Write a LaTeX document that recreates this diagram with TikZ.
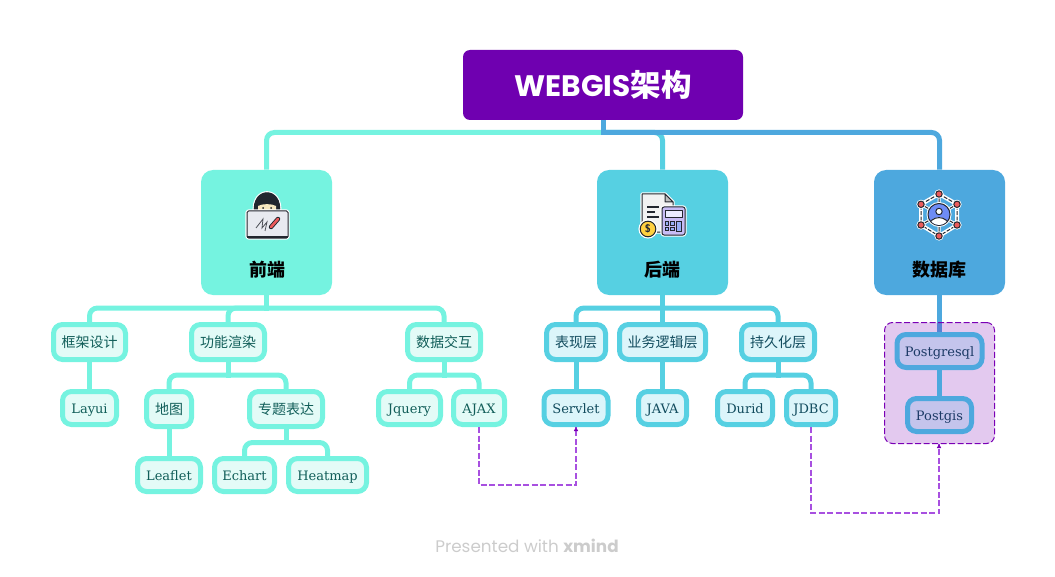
\documentclass[tikz,border=0pt]{standalone}
\usepackage{fontspec}
\setmainfont{DejaVu Serif}
\newfontfamily\cjk{Noto Sans CJK SC}
\newfontfamily\latinhead{Poppins}
\usetikzlibrary{arrows.meta,backgrounds}
\newdimen\px \px=0.75pt
\newcommand{\zh}[1]{{\fontsize{14\px}{16\px}\selectfont\cjk #1}}
\definecolor{cmain}{HTML}{6F00B0}
\definecolor{cteal}{HTML}{75F3E0}
\definecolor{ccyan}{HTML}{56D0E2}
\definecolor{cblue}{HTML}{4DA8DE}
\definecolor{fteal}{HTML}{E3FBF7}
\definecolor{fcyan}{HTML}{DCF5FA}
\definecolor{fdb}{HTML}{C4C4EC}
\definecolor{tteal}{HTML}{115E59}
\definecolor{tcyan}{HTML}{124C5E}
\definecolor{tdb}{HTML}{1C3A66}
\definecolor{cdash}{HTML}{A850E0}
\definecolor{cdark}{HTML}{7A00B5}
\definecolor{iline}{HTML}{22262E}
\definecolor{ired}{HTML}{EC5B5B}
\definecolor{iface}{HTML}{F8E8C0}
\definecolor{ilap}{HTML}{E8EAF0}
\definecolor{ipur}{HTML}{C8BCF5}
\definecolor{iblue}{HTML}{6E8CF5}
\definecolor{icoin}{HTML}{FFD040}
\pgfdeclarelayer{bg}\pgfdeclarelayer{mid}
\pgfsetlayers{bg,mid,main}
\tikzset{
  mainbox/.style={fill=cmain,rounded corners=7\px,minimum width=280\px,minimum height=70\px,inner sep=0pt,text=white,font=\fontsize{29.6\px}{32\px}\selectfont\latinhead\bfseries},
  topicbox/.style={fill=#1,rounded corners=12\px,minimum width=131\px,minimum height=125\px,inner sep=0pt},
  toplabel/.style={font=\fontsize{18\px}{20\px}\selectfont\cjk\bfseries,text=black,inner sep=0pt},
  sub/.style n args={3}{draw=#1,fill=#2,text=#3,line width=5\px,rounded corners=9\px,inner sep=0pt,
     minimum height=33\px,text height=12.5\px,text depth=2.5\px,font=\fontsize{13\px}{15\px}\selectfont},
  tsub/.style={sub={cteal}{fteal}{tteal}},
  csub/.style={sub={ccyan}{fcyan}{tcyan}},
  dsub/.style={sub={cblue}{fdb}{tdb}},
  link/.style={line width=5\px,line cap=rect,draw=#1},
  rlink/.style={line width=5\px,draw=#1,rounded corners=8\px},
  dashlink/.style={draw=cdash,line width=1.2\px,dash pattern=on 6\px off 2.5\px},
  ic/.style={draw=iline,line width=1\px,line join=round},
  halo/.style={draw=white,line width=3.2\px,line join=round},
}
\begin{document}
\begin{tikzpicture}[x=1\px,y=-1\px]
\useasboundingbox (0,0) rectangle (1055,577);
% main and topics
\node[mainbox] (main) at (603,85) {WEBGIS{\fontsize{30.5\px}{32\px}\selectfont\cjk\bfseries 架构}};
\node[topicbox=cteal] (fe) at (266.5,232.5) {};
\node[topicbox=ccyan] (be) at (662.5,232.5) {};
\node[topicbox=cblue] (db) at (939.5,232.5) {};
\node[toplabel] (felab) at (267,270) {前端};
\node[toplabel] (belab) at (662.5,270) {后端};
\node[toplabel] (dblab) at (939.5,270) {数据库};
% front-end nodes
\node[tsub,minimum width=72\px,minimum height=35\px] (n1) at (89.5,342) {\zh{框架设计}};
\node[tsub,minimum width=73\px,minimum height=35\px] (n2) at (228,342) {\zh{功能渲染}};
\node[tsub,minimum width=73\px,minimum height=35\px] (n3) at (444,342) {\zh{数据交互}};
\node[tsub,minimum width=54\px] (layui) at (89.5,408) {Layui};
\node[tsub,minimum width=45\px,minimum height=35\px] (map) at (169,409) {\zh{地图}};
\node[tsub,minimum width=73\px,minimum height=35\px] (theme) at (286,409) {\zh{专题表达}};
\node[tsub,minimum width=63\px] (leaflet) at (169,475) {Leaflet};
\node[tsub,minimum width=60\px] (echart) at (244.5,475) {Echart};
\node[tsub,minimum width=78\px] (heat) at (327.5,475) {Heatmap};
\node[tsub,minimum width=62\px] (jq) at (409.5,408) {Jquery};
\node[tsub,minimum width=51\px] (ajax) at (479,408) {AJAX};
% back-end nodes
\node[csub,minimum width=59\px,minimum height=35\px] (b1) at (576,342) {\zh{表现层}};
\node[csub,minimum width=86\px,minimum height=35\px] (b2) at (662.5,342) {\zh{业务逻辑层}};
\node[csub,minimum width=73\px,minimum height=35\px] (b3) at (778,342) {\zh{持久化层}};
\node[csub,minimum width=64\px] (servlet) at (576,408) {Servlet};
\node[csub,minimum width=48\px] (java) at (662.5,408) {JAVA};
\node[csub,minimum width=55\px] (durid) at (745,408) {Durid};
\node[csub,minimum width=49\px] (jdbc) at (811,408) {JDBC};
% database nodes
\node[dsub,minimum width=85\px] (pgsql) at (939.5,351) {Postgresql};
\node[dsub,minimum width=64\px] (pgis) at (939.5,415) {Postgis};
% junctions
\coordinate (j0) at (main.south |- 0,132.5);
\coordinate (j1) at (fe.south |- 0,308);
\coordinate (j2) at (n2.south |- 0,375);
\coordinate (j3) at (theme.south |- 0,442.5);
\coordinate (j4) at (n3.south |- 0,375);
\coordinate (j5) at (be.south |- 0,308);
\coordinate (j6) at (b3.south |- 0,375);
\begin{pgfonlayer}{bg}
  \draw[link=cteal] (main.south) -- (j0);
  \draw[rlink=cteal] (j0) -| (fe.north);
  \draw[rlink=ccyan] (j0) -| (be.north);
  \draw[rlink=cblue] (j0) -| (db.north);
  \draw[link=cblue] (main.south) -- (j0);
  % front-end tree
  \draw[link=cteal] (fe.south) -- (j1);
  \draw[rlink=cteal] (j1) -| (n1.north);
  \draw[rlink=cteal] (j1) -| (n2.north);
  \draw[rlink=cteal] (j1) -| (n3.north);
  \draw[link=cteal] (n1.south) -- (layui.north);
  \draw[link=cteal] (n2.south) -- (j2);
  \draw[rlink=cteal] (j2) -| (map.north);
  \draw[rlink=cteal] (j2) -| (theme.north);
  \draw[link=cteal] (map.south) -- (leaflet.north);
  \draw[link=cteal] (theme.south) -- (j3);
  \draw[rlink=cteal] (j3) -| (echart.north);
  \draw[rlink=cteal] (j3) -| (heat.north);
  \draw[link=cteal] (n3.south) -- (j4);
  \draw[rlink=cteal] (j4) -| (jq.north);
  \draw[rlink=cteal] (j4) -| (ajax.north);
  % back-end tree
  \draw[link=ccyan] (be.south) -- (b2.north);
  \draw[rlink=ccyan] (j5) -| (b1.north);
  \draw[rlink=ccyan] (j5) -| (b3.north);
  \draw[link=ccyan] (b1.south) -- (servlet.north);
  \draw[link=ccyan] (b2.south) -- (java.north);
  \draw[link=ccyan] (b3.south) -- (j6);
  \draw[rlink=ccyan] (j6) -| (durid.north);
  \draw[rlink=ccyan] (j6) -| (jdbc.north);
  % database
  \draw[link=cblue] (db.south) -- (pgsql.north);
\end{pgfonlayer}
\begin{pgfonlayer}{mid}
  \node[draw=cdark,fill=cdark,fill opacity=.21,draw opacity=1,text opacity=1,line width=1\px,dash pattern=on 6\px off 2.5\px,rounded corners=8\px,
     minimum width=110\px,minimum height=121\px,inner sep=0pt] (bound) at (939.5,383) {};
  \draw[link=cblue] (pgsql.south) -- (pgis.north);
\end{pgfonlayer}
% relationship lines
\coordinate (d1) at (ajax.south |- 0,485);
\coordinate (d2) at (jdbc.south |- 0,513);
\draw[dashlink] (ajax.south) -- (d1) -| (servlet.south);
\draw[dashlink] (jdbc.south) -- (d2) -| ([xshift=-0.5\px]bound.south);
\fill[cdark] (servlet.south) -- ++(-2.2,4) -- ++(4.4,0) -- cycle;
\fill[cdark] ([xshift=-0.5\px]bound.south) -- ++(-2.2,4) -- ++(4.4,0) -- cycle;
% footer
\node[inner sep=0pt,text=black!20] (foot) at (527,546) {\fontsize{16.8\px}{18\px}\selectfont\latinhead Presented with {\bfseries xmind}};
% icon 1: person behind a laptop
\draw[halo,fill=white] (254.5,213) .. controls (251,186) and (283,186) .. (279.5,213) -- cycle;
\draw[ic,fill=iline] (254.5,213) .. controls (251,186) and (283,186) .. (279.5,213) -- cycle;
\fill[iface] (258,206) .. controls (262,203.5) and (272,203.5) .. (276,206) -- (276,212) -- (258,212) -- cycle;
\fill[iline] (263,208) circle[radius=1] (271,208) circle[radius=1];
\draw[halo,fill=white,rounded corners=1.5\px] (247,211) rectangle (288,238);
\draw[ic,fill=ilap,rounded corners=1.5\px] (247,211) rectangle (288,238);
\draw[iline,line width=1.8\px] (247,237) -- (288,237);
\draw[iline!80,line width=.8\px] (256,228) -- (263,219) -- (262,228) -- (267,222) -- (265,231);
\draw[iline,line width=4.4\px,line cap=round] (271,227) -- (278,219);
\draw[ired,line width=2.6\px,line cap=round] (271,227) -- (278,219);
% icon 2: invoice, calculator, coin
\draw[halo,fill=white] (642,194) -- (665,194) -- (673,202) -- (673,232) -- (642,232) -- cycle;
\draw[ic,fill=black!5] (642,194) -- (665,194) -- (673,202) -- (673,232) -- (642,232) -- cycle;
\draw[ic,fill=black!25] (665,194) -- (665,202) -- (673,202) -- cycle;
\draw[iline,line width=1.3\px] (647,207) -- (659,207) (647,212) -- (655,212) (647,217) -- (659,217) (647,222) -- (653,222);
\draw[halo,fill=white,rounded corners=2\px] (662,207) rectangle (685,235);
\draw[ic,fill=ipur,rounded corners=2\px] (662,207) rectangle (685,235);
\draw[ic,fill=blue!8] (665,211) rectangle (682,218);
\foreach \bxx in {665,670.5}\foreach \byy in {221.5,227}{\draw[iline,line width=.7\px,fill=iblue!70!white] (\bxx,\byy) rectangle ++(3.8,3.8);}
\draw[iline,line width=.7\px,fill=iblue!70!white] (676,221.5) rectangle (681.5,231);
\draw[white,line width=1.5\px,fill=icoin] (648,229) circle[radius=8.8];
\draw[ic,fill=icoin] (648,229) circle[radius=7.8];
\node[inner sep=0pt,text=iline] (coin) at (648,229) {\fontsize{11\px}{11\px}\selectfont\sffamily\bfseries\$};
% icon 3: network
\coordinate (hc) at (939,214.5);
\coordinate (h1) at (939,194); \coordinate (h2) at (957,204.3); \coordinate (h3) at (957,225);
\coordinate (h4) at (939,236); \coordinate (h5) at (921,225); \coordinate (h6) at (921,204.3);
\draw[white,line width=4\px,line join=round] (h1) -- (h2) -- (h3) -- (h4) -- (h5) -- (h6) -- cycle;
\draw[white,line width=3\px] (h1) -- (h4) (h6) -- (h3) (h2) -- (h5);
\draw[iline,line width=1\px,dash pattern=on 4\px off 1.5\px] (h1) -- (h2) -- (h3) -- (h4) -- (h5) -- (h6) -- cycle;
\draw[iline,line width=1\px] (h1) -- (h4) (h6) -- (h3) (h2) -- (h5);
\foreach \hn in {h1,h2,h3,h4,h5,h6}{
  \fill[white] (\hn) circle[radius=4.6];
  \draw[ic,fill=ired] (\hn) circle[radius=3.2];
}
\fill[white] (hc) circle[radius=12.5];
\draw[ic,fill=iblue] (hc) circle[radius=11];
\draw[ic,fill=white] (939,211.5) circle[radius=3.2];
\begin{scope}
  \clip (hc) circle[radius=10.5];
  \draw[ic,fill=white] (929,227) .. controls (929,214.5) and (949,214.5) .. (949,227) -- cycle;
\end{scope}
\end{tikzpicture}
\end{document}
